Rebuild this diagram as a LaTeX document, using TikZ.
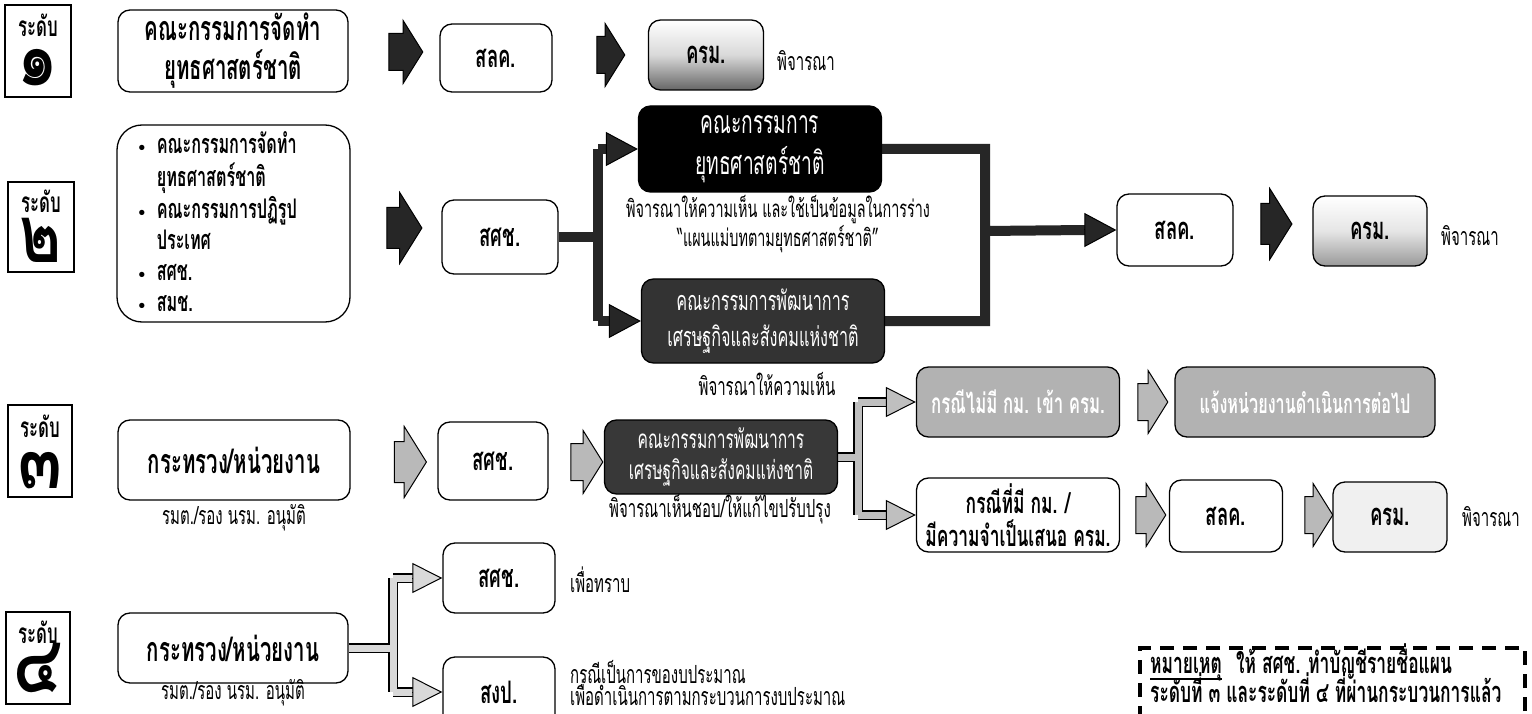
\documentclass[tikz,border=0pt]{standalone}
\usepackage{fontspec}
\setmainfont{Loma}[Script=Thai,FakeStretch=0.6]
\newfontfamily\numfont{Loma}[Script=Thai,FakeStretch=0.8]
\newfontfamily\symfont{DejaVu Sans}
\usetikzlibrary{shapes.arrows,arrows.meta,backgrounds}
\newcommand\fsz[2]{\fontsize{#1}{#2}\selectfont}
\tikzset{
 box/.style={draw, fill=white, line width=1.3pt, rounded corners=12pt, align=center, inner sep=0pt},
 bl/.style={font=\bfseries\fsz{34pt}{39pt}},
 bs/.style={font=\bfseries\fsz{31pt}{36pt}},
 badge/.style={draw, line width=1.4pt, inner sep=0pt},
 lvl/.style={font=\bfseries\fsz{28pt}{28pt}, inner sep=0pt},
 num/.style={font=\numfont\bfseries\fsz{80pt}{80pt}, inner sep=0pt},
 captxt/.style={font=\fsz{25pt}{25pt}, align=center, inner sep=0pt},
 notetxt/.style={font=\bfseries\fsz{29pt}{30pt}, inner sep=0pt},
 blkarrow/.style={single arrow, draw, line width=1pt, inner xsep=0pt, inner ysep=18pt, single arrow head extend=13pt, single arrow tip angle=116},
 wide/.style={inner ysep=20pt, single arrow head extend=15pt},
 darkA/.style={blkarrow, fill=black!85},
 grayA/.style={blkarrow, fill=gray!55},
 bbar/.style={draw=black!85, line width=10pt, line cap=square},
 gbar/.style={draw=gray!50, line width=7pt, line cap=square, preaction={draw=black, line width=10pt, line cap=square}},
 lbar/.style={draw=gray!30, line width=7pt, line cap=square, preaction={draw=black, line width=10pt, line cap=square}},
 btip/.style={line width=1pt, draw=black, -{Triangle[width=34pt,length=32pt,fill=black!85]}},
 gtip/.style={line width=1pt, draw=black, -{Triangle[width=30pt,length=30pt,fill=gray!50]}},
 ltip/.style={line width=1pt, draw=black, -{Triangle[width=30pt,length=30pt,fill=gray!30]}},
}
\begin{document}
\begin{tikzpicture}[x=1pt,y=-1pt]
\useasboundingbox (0,0) rectangle (1532,714);
% ---------- badges ----------
\node[badge, minimum width=66pt, minimum height=92pt] (b1) at (38,51) {};
\node[lvl] (b1t) at (38,25) {ระดับ};
\node[num, anchor=base] (b1n) at (38,86) {๑};
\node[badge, minimum width=66pt, minimum height=90pt] (b2) at (41,227) {};
\node[lvl] (b2t) at (41,201) {ระดับ};
\node[num, anchor=base] (b2n) at (41,262) {๒};
\node[badge, minimum width=64pt, minimum height=92pt] (b3) at (40,451) {};
\node[lvl] (b3t) at (40,426) {ระดับ};
\node[num, anchor=base] (b3n) at (40,488) {๓};
\node[badge, minimum width=64pt, minimum height=92pt] (b4) at (38,658) {};
\node[lvl] (b4t) at (38,632) {ระดับ};
\node[num, anchor=base] (b4n) at (38,692) {๔};
% ---------- row 1 ----------
\node[box, bl, minimum width=230pt, minimum height=82pt] (a1) at (233,51) {คณะกรรมการจัดทำ\\ยุทธศาสตร์ชาติ};
\node[darkA, minimum height=34pt] (r1a) at (400,52) {};
\node[box, bs, minimum width=112pt, minimum height=68pt] (slk1) at (496,58) {สลค.};
\node[darkA, minimum height=28pt] (r1b) at (605,55) {};
\node[box, bs, minimum width=115pt, minimum height=70pt, top color=white, bottom color=black!60, middle color=white!85!black] (krm1) at (706,55) {ครม.};
\node[captxt, anchor=west] (c1) at (777,61) {พิจารณา};
% ---------- row 2 ----------
\node[box, rounded corners=25pt, minimum width=233pt, minimum height=197pt] (lst) at (233.5,223.5) {};
\node[anchor=west, font=\bfseries\fsz{27pt}{31pt}, inner sep=0pt] (blist) at (137,226)
 {\begin{tabular}{@{}l@{\hspace{10pt}}l@{}}
  {\symfont\fsz{15pt}{31pt}•} & คณะกรรมการจัดทำ\\
   & ยุทธศาสตร์ชาติ\\
  {\symfont\fsz{15pt}{31pt}•} & คณะกรรมการปฏิรูป\\
   & ประเทศ\\
  {\symfont\fsz{15pt}{31pt}•} & สศช.\\
  {\symfont\fsz{15pt}{31pt}•} & สมช.
 \end{tabular}};
\node[darkA, wide, minimum height=35pt] (r2a) at (398,228) {};
\node[box, bs, minimum width=116pt, minimum height=74pt] (ssc2) at (500,237) {สศช.};
\node[box, draw=black, fill=black, text=white, font=\fsz{32pt}{41pt}, minimum width=243pt, minimum height=86pt] (ktop) at (760,149) {คณะกรรมการ\\ยุทธศาสตร์ชาติ};
\node[box, draw=black, fill=black!80, text=white, font=\fsz{27pt}{36pt}, minimum width=243pt, minimum height=84pt] (kbot) at (763,321) {คณะกรรมการพัฒนาการ\\เศรษฐกิจและสังคมแห่งชาติ};
\node[captxt, font=\fsz{24pt}{25pt}] (c2a) at (778,224) {พิจารณาให้ความเห็น และใช้เป็นข้อมูลในการร่าง\\“แผนแม่บทตามยุทธศาสตร์ชาติ”};
\node[captxt] (c2b) at (767,384) {พิจารณาให้ความเห็น};
\node[box, bs, minimum width=116pt, minimum height=72pt] (slk2) at (1175,230) {สลค.};
\node[darkA, wide, minimum height=31pt] (r2b) at (1270,224) {};
\node[box, bs, minimum width=114pt, minimum height=70pt, top color=white, bottom color=black!40, middle color=white!90!black] (krm2) at (1370,231) {ครม.};
\node[captxt, anchor=west] (c2c) at (1441,236) {พิจารณา};
% ---------- row 3 ----------
\node[box, bl, minimum width=232pt, minimum height=80pt] (k3) at (234,460) {กระทรวง/หน่วยงาน};
\node[captxt] (c3a) at (234,518) {รมต./รอง นรม. อนุมัติ};
\node[grayA, wide, minimum height=32pt] (r3a) at (404,462) {};
\node[box, bs, minimum width=110pt, minimum height=78pt] (ssc3) at (493,461) {สศช.};
\node[grayA, minimum height=32pt] (r3b) at (581,462) {};
\node[box, draw=black, fill=black!78, text=white, font=\fsz{26pt}{31pt}, minimum width=233pt, minimum height=74pt] (dk3) at (721,457) {คณะกรรมการพัฒนาการ\\เศรษฐกิจและสังคมแห่งชาติ};
\node[captxt] (c3b) at (720,509) {พิจารณาเห็นชอบ/ให้แก้ไขปรับปรุง};
\node[box, fill=gray!60, text=white, font=\bfseries\fsz{28pt}{30pt}, minimum width=203pt, minimum height=70pt] (g31) at (1018,402) {กรณีไม่มี กม. เข้า ครม.};
\node[grayA, minimum height=30pt] (r3c) at (1147,402) {};
\node[box, fill=gray!60, text=white, font=\bfseries\fsz{27pt}{30pt}, minimum width=260pt, minimum height=70pt] (g32) at (1305,402) {แจ้งหน่วยงานดำเนินการต่อไป};
\node[box, font=\bfseries\fsz{29pt}{33pt}, minimum width=203pt, minimum height=74pt] (w31) at (1018,515) {กรณีที่มี กม. /\\มีความจำเป็นเสนอ ครม.};
\node[grayA, minimum height=30pt] (r3d) at (1145,515) {};
\node[box, bs, minimum width=113pt, minimum height=72pt] (slk3) at (1226,516) {สลค.};
\node[grayA, minimum height=28pt] (r3e) at (1313,515) {};
\node[box, bs, minimum width=114pt, minimum height=70pt, fill=gray!12] (krm3) at (1390,517) {ครม.};
\node[captxt, anchor=west] (c3c) at (1462,517) {พิจารณา};
% ---------- row 4 ----------
\node[box, bl, minimum width=230pt, minimum height=70pt] (k4) at (233,648) {กระทรวง/หน่วยงาน};
\node[captxt] (c4a) at (233,693) {รมต./รอง นรม. อนุมัติ};
\node[box, bs, minimum width=112pt, minimum height=70pt] (ssc4) at (499,578) {สศช.};
\node[captxt, anchor=west] (c4b) at (570,580) {เพื่อทราบ};
\node[box, bs, minimum width=112pt, minimum height=70pt] (sgp) at (499,692) {สงป.};
\node[captxt, anchor=west] (c4c) at (570,672) {กรณีเป็นการของบประมาณ};
\node[captxt, anchor=west] (c4d) at (570,693) {เพื่อดำเนินการตามกระบวนการงบประมาณ};
% ---------- note ----------
\node[draw, line width=3.5pt, dash pattern=on 14pt off 9pt, minimum width=385pt, minimum height=92pt, inner sep=0pt] (note) at (1332.5,694) {};
\node[notetxt, anchor=base west] (n1a) at (1150,673) {หมายเหตุ};
\node[notetxt, anchor=base west] (n1b) at ([xshift=14pt]n1a.base east) {ให้ สศช. ทำบัญชีรายชื่อแผน};
\node[notetxt, anchor=base west] (n2) at (1150,702) {ระดับที่ ๓ และระดับที่ ๔ ที่ผ่านกระบวนการแล้ว};
\draw[line width=1.3pt] ([yshift=-6pt]n1a.base west) -- ([yshift=-6pt]n1a.base east);
% ---------- connectors ----------
\coordinate (j2a) at (598,237);
\coordinate (j2b) at (985,231);
\coordinate (j3) at (858,457);
\coordinate (j4) at (393,648);
\begin{pgfonlayer}{background}
\fill[white] (0,0) rectangle (1532,714);
% row 2 left split
\draw[bbar] (ssc2.east) -- (j2a) (j2a |- ktop.west) -- (j2a |- kbot.west)
  (j2a |- ktop.west) -- ([xshift=-30pt]ktop.west)
  (j2a |- kbot.west) -- ([xshift=-30pt]kbot.west);
\draw[btip] ([xshift=-32pt]ktop.west) -- (ktop.west);
\draw[btip] ([xshift=-32pt]kbot.west) -- (kbot.west);
% row 2 right merge
\draw[bbar] (ktop.east) -- (j2b |- ktop.east) -- (j2b |- kbot.east) -- (kbot.east)
  (j2b) -- ([xshift=-30pt]slk2.west);
\draw[btip] ([xshift=-32pt]slk2.west) -- (slk2.west);
% row 3 split
\draw[gbar] (dk3.east) -- (j3) (j3 |- g31.west) -- (j3 |- w31.west)
  (j3 |- g31.west) -- ([xshift=-28pt]g31.west)
  (j3 |- w31.west) -- ([xshift=-28pt]w31.west);
\draw[gtip] ([xshift=-30pt]g31.west) -- (g31.west);
\draw[gtip] ([xshift=-30pt]w31.west) -- (w31.west);
% row 4 split
\draw[lbar] (k4.east) -- (j4) (j4 |- ssc4.west) -- (j4 |- sgp.west)
  (j4 |- ssc4.west) -- ([xshift=-28pt]ssc4.west)
  (j4 |- sgp.west) -- ([xshift=-28pt]sgp.west);
\draw[ltip] ([xshift=-30pt]ssc4.west) -- (ssc4.west);
\draw[ltip] ([xshift=-30pt]sgp.west) -- (sgp.west);
\end{pgfonlayer}
\end{tikzpicture}
\end{document}
